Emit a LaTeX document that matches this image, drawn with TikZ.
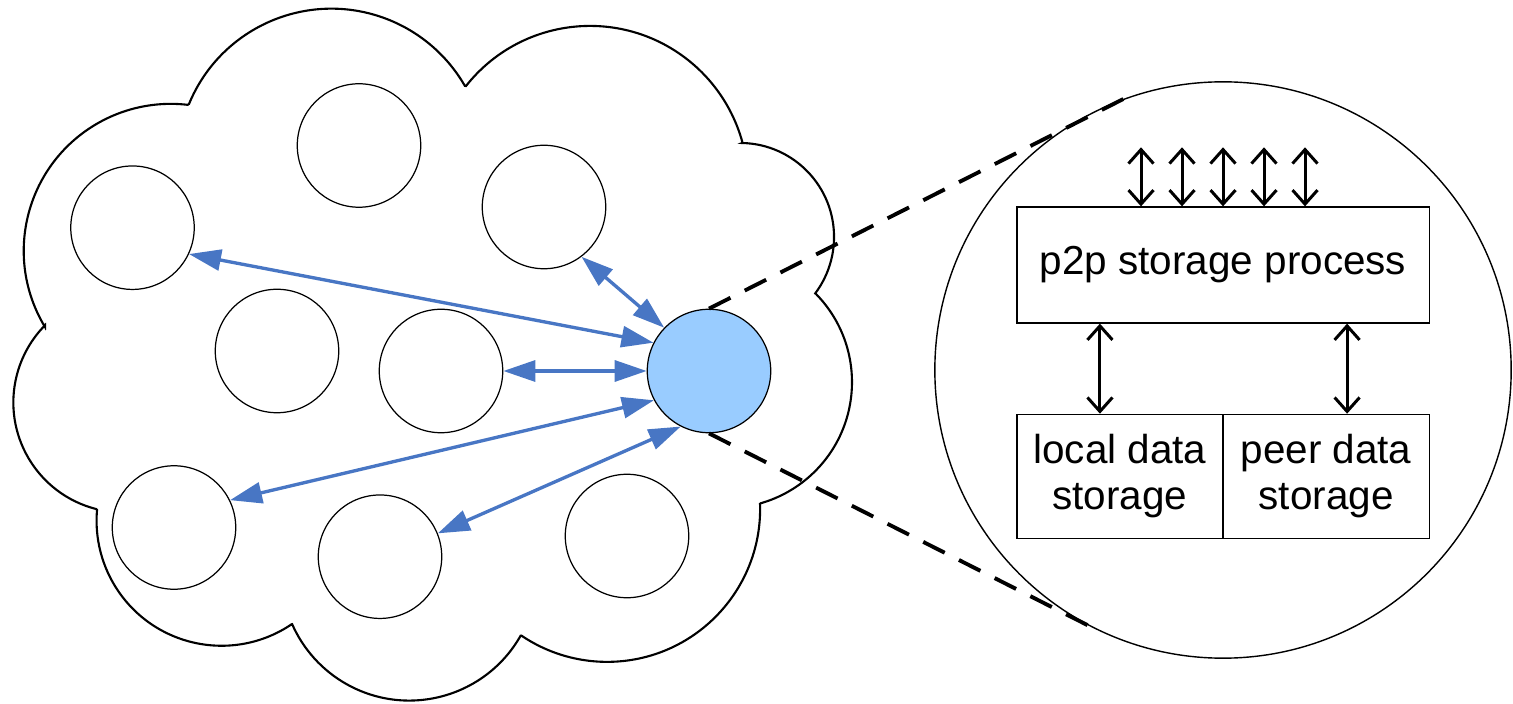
\documentclass[tikz,border=0pt]{standalone}
\usepackage{fontspec}
\setmainfont{Liberation Sans}
\usepackage{xcolor}
\usepackage{tikz}
\usetikzlibrary{positioning, arrows.meta, calc}
\definecolor{hubfill}{HTML}{99CCFF}
\definecolor{linkblue}{HTML}{4876C4}
\tikzstyle{peer} = [circle, draw, line width=0.35pt, inner sep=0pt, minimum size=1.234cm]
\tikzstyle{hub} = [peer, fill=hubfill]
\tikzstyle{block} = [rectangle, draw, line width=0.35pt, align=center, inner sep=0pt, font=\fontsize{11.5}{13}\selectfont]
\tikzstyle{link} = [draw, linkblue, line width=0.95pt, {Triangle[length=3.2mm, width=2.1mm]}-{Triangle[length=3.2mm, width=2.1mm]}]
\tikzstyle{io} = [draw, line width=0.85pt, {Straight Barb[length=1.4mm, width=2.5mm]}-{Straight Barb[length=1.4mm, width=2.5mm]}]
\tikzstyle{zoomline} = [draw, line width=1.1pt, dash pattern=on 0.24cm off 0.16cm]

\begin{document}
\begin{tikzpicture}[x=0.01cm, y=0.01cm]
        \useasboundingbox (0,0) rectangle (1513,703);

        % Cloud
        \draw[line width=0.6pt] (45,376) arc[start angle=211.2, end angle=83.4, radius=147]
            -- (189,599) arc[start angle=157.6, end angle=29.9, radius=154]
            -- (466,617) arc[start angle=141.7, end angle=15.1, radius=158]
            -- (742,560) arc[start angle=88.8, end angle=-36.9, radius=94]
            -- (816,409) arc[start angle=44.4, end angle=-74.3, radius=126]
            -- (760,200) arc[start angle=2.2, end angle=-124.3, radius=153]
            -- (521,68) arc[start angle=-29.2, end angle=-156.6, radius=128]
            -- (292,79) arc[start angle=-55.7, end angle=-185, radius=125]
            -- (96,194) arc[start angle=-104.4, end angle=-224.6, radius=110]
            -- cycle;

        % Peers
        \node (p1) [peer] at (132.5,475.3) {};
        \node (p2) [peer] at (359,557.5) {};
        \node (p3) [peer] at (544,496) {};
        \node (p4) [peer] at (277,352) {};
        \node (p5) [peer] at (441,332) {};
        \node (p6) [peer] at (174,175.5) {};
        \node (p7) [peer] at (380,146.3) {};
        \node (p8) [peer] at (627,167) {};
        \node (me) [hub] at (709,332) {};

        % Zoomed view
        \node (zoom) [circle, draw, line width=0.4pt, inner sep=0pt, minimum size=5.76cm] at (1223,333) {};
        \node (proc) [block, minimum width=4.12cm, minimum height=1.16cm] at (1223,438) {p2p storage process};
        \node (local) [block, minimum width=2.06cm, minimum height=1.24cm, below right=0.9cm and 0cm of proc.south west] {local data\\storage};
        \node (remote) [block, minimum width=2.06cm, minimum height=1.24cm, right=-0.35pt of local] {peer data\\storage};

        % Edges
        \path [link] (me.153) -- (p1.-25);
        \path [link] (me.136) -- (p3.-53);
        \path [link] (me.180) -- (p5.0);
        \path [link] (me.208) -- (p6.26);
        \path [link] (me.243) -- (p7.22);

        \path [zoomline] (me.north) -- (zoom.110.6);
        \path [zoomline] (me.south) -- (zoom.244.3);

        \foreach \d [count=\i] in {-82,-41,0,41,82} {
            \coordinate (api\i) at ([xshift=\d*0.01cm, yshift=0.59cm]proc.north);
            \path [io] (api\i) -- (api\i |- proc.north);
        }
        \path [io] ([xshift=-0.2cm]local.north) -- ([xshift=-0.2cm]local.north |- proc.south);
        \path [io] ([xshift=0.21cm]remote.north) -- ([xshift=0.21cm]remote.north |- proc.south);

\end{tikzpicture}
\end{document}
